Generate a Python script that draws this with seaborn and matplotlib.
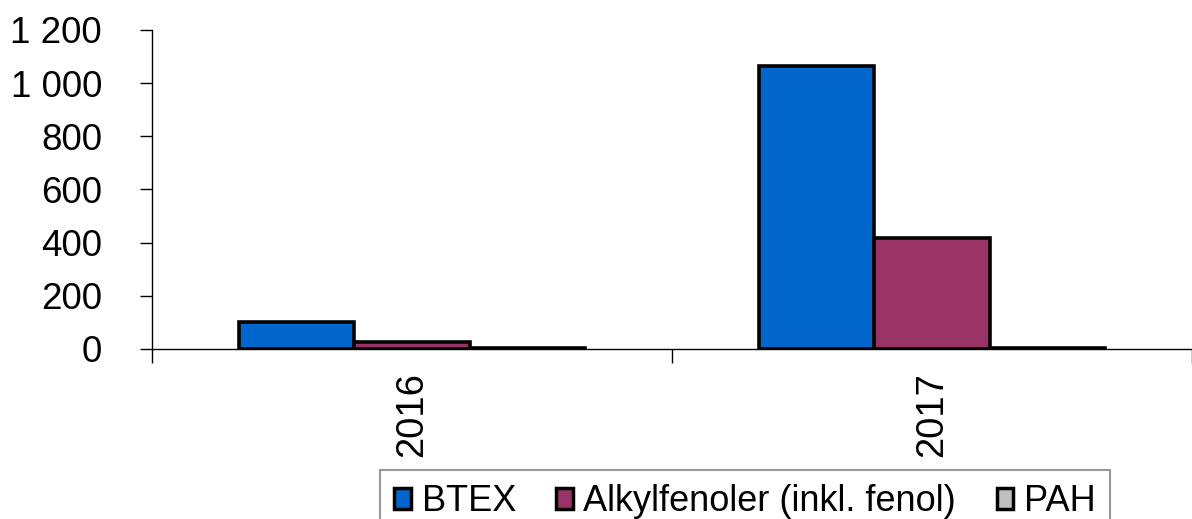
import matplotlib
matplotlib.use("Agg")
import matplotlib.pyplot as plt
from matplotlib.ticker import FuncFormatter, FixedLocator
import seaborn as sns
import pandas as pd

years = ["2016", "2017"]
series = ["BTEX", "Alkylfenoler (inkl. fenol)", "PAH"]
btex = [100, 1065]
alkylfenoler = [28, 418]
pah = [3, 5]
colors = ["#0066CC", "#993366", "#C0C0C0"]

values = {"BTEX": btex, "Alkylfenoler (inkl. fenol)": alkylfenoler, "PAH": pah}
df = pd.DataFrame(
    [(y, s, values[s][i]) for s in series for i, y in enumerate(years)],
    columns=["year", "series", "value"],
)

sns.set_theme(style="white")
plt.rcParams["font.family"] = ["Liberation Sans", "DejaVu Sans"]
plt.rcParams["text.color"] = "black"

fig = plt.figure(figsize=(11.92, 5.19), dpi=100)
ax = fig.add_axes([152 / 1192, 1 - 349 / 519, 1040 / 1192, 319 / 519])

sns.barplot(
    data=df, x="year", y="value", hue="series", order=years, hue_order=series,
    palette=colors, width=2 / 3, gap=0, edgecolor="black", linewidth=2.6,
    saturation=1, ax=ax, legend=True,
)

ax.set_xlim(-0.5, 1.5)
ax.set_ylim(0, 1200)
ax.set_yticks(range(0, 1201, 200))
ax.yaxis.set_major_formatter(FuncFormatter(lambda v, p: f"{v:,.0f}".replace(",", " ")))
ax.tick_params(axis="y", which="major", length=9, width=1, color="black",
               labelsize=26.5, labelcolor="black", pad=27, left=True)

ax.set_xticks([0, 1])
ax.set_xticklabels(years, rotation=90, fontsize=27.5, color="black")
ax.xaxis.set_minor_locator(FixedLocator([-0.5, 0.5, 1.5]))
ax.tick_params(axis="x", which="major", length=0, pad=17)
ax.tick_params(axis="x", which="minor", length=10, width=1, color="black", bottom=True)

ax.set_xlabel("")
ax.set_ylabel("")
for side in ["top", "right"]:
    ax.spines[side].set_visible(False)
for side in ["left", "bottom"]:
    ax.spines[side].set_color("black")
    ax.spines[side].set_linewidth(1)
ax.grid(False)

handles, labels = ax.get_legend_handles_labels()
ax.legend_.remove()
for h in handles:
    h.set_edgecolor("black")
    h.set_linewidth(2.5)
leg = fig.legend(
    handles, labels, loc="upper left",
    bbox_to_anchor=(380 / 1192, 1 - 475 / 519, 730 / 1192, 0.01), mode="expand",
    ncol=3, fontsize=26, frameon=True, fancybox=False, edgecolor="#808080",
    handlelength=0.45, handleheight=0.55, handletextpad=0.3, columnspacing=0.9,
    borderpad=0.4, borderaxespad=0,
)
leg.get_frame().set_linewidth(1.5)
for t in leg.get_texts():
    t.set_color("black")

fig.savefig("out.png", dpi=100)
